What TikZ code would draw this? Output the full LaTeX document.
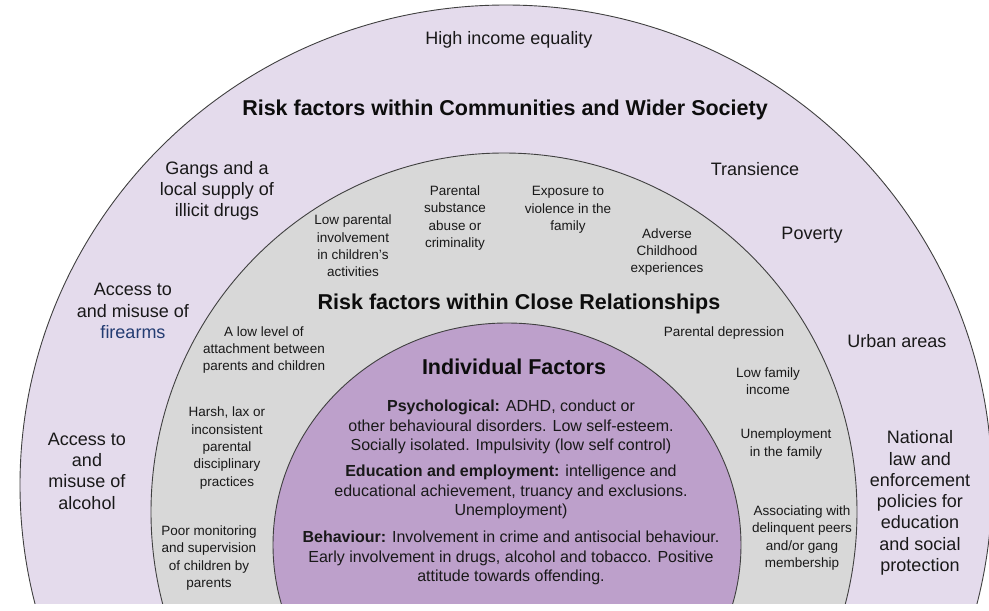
\documentclass[tikz,border=0pt]{standalone}
\usepackage{fontspec}
\setmainfont{Liberation Sans}
\usetikzlibrary{positioning}

\definecolor{societyfill}{HTML}{E4DBEC}
\definecolor{closefill}{HTML}{D8D8D8}
\definecolor{personfill}{HTML}{BDA0CB}
\definecolor{inkblue}{HTML}{233C72}

\begin{document}
\begin{tikzpicture}[x=1pt,y=-1pt,
  ring/.style={draw=black!75,line width=0.9pt},
  outertxt/.style={align=center,text=black!90,inner sep=0pt,font=\fontsize{18}{21.3}\selectfont},
  midtxt/.style={align=center,text=black!90,inner sep=0pt,font=\fontsize{13.5}{17.3}\selectfont},
  indtxt/.style={align=center,text=black!90,inner sep=0pt,font=\fontsize{16}{19.4}\selectfont},
  heading/.style={text=black!95,inner sep=0pt,font=\fontsize{21.5}{24}\selectfont\bfseries}
  ]

  \useasboundingbox (0,0) rectangle (989,611);

  \begin{scope}
    \clip (0,0) rectangle (989,603);
    \filldraw[ring,fill=societyfill] (506,485) ellipse [x radius=486pt,y radius=480pt];
    \filldraw[ring,fill=closefill] (504,512) ellipse [x radius=353pt,y radius=359pt];
    \filldraw[ring,fill=personfill] (507,545) ellipse [x radius=234pt,y radius=222pt];
  \end{scope}

  \node[outertxt] (equality) at (509,40) {High income equality};
  \node[heading] (society) at (505,110) {Risk factors within Communities and Wider Society};
  \node[outertxt] (gangs) at (217,191) {Gangs and a\\local supply of\\illicit drugs};
  \node[outertxt] (transience) at (755,169) {Transience};
  \node[outertxt] (poverty) at (812,235) {Poverty};
  \node[outertxt] (urban) at (897,341) {Urban areas};
  \node[outertxt] (firearms) at (133,311) {Access to\\and misuse of\\\textcolor{inkblue}{firearms}};
  \node[outertxt] (alcohol) at (87,471) {Access to\\and\\misuse of\\alcohol};
  \node[outertxt] (policies) at (920,503) {National\\law and\\enforcement\\policies for\\education\\and social\\protection};

  \node[midtxt] (involve) at (353,246) {Low parental\\involvement\\in children's\\activities};
  \node[midtxt] (substance) at (455,218) {Parental\\substance\\abuse or\\criminality};
  \node[midtxt] (violence) at (568,210) {Exposure to\\violence in the\\family};
  \node[midtxt] (adverse) at (667,252) {Adverse\\Childhood\\experiences};
  \node[heading] (close) at (519,304) {Risk factors within Close Relationships};
  \node[midtxt] (attach) at (264,350) {A low level of\\attachment between\\parents and children};
  \node[midtxt] (depression) at (724,333) {Parental depression};
  \node[midtxt] (income) at (768,381) {Low family\\income};
  \node[midtxt] (harsh) at (227,448) {Harsh, lax or\\inconsistent\\parental\\disciplinary\\practices};
  \node[midtxt] (unemploy) at (786,444) {Unemployment\\in the family};
  \node[midtxt] (monitor) at (209,558) {Poor monitoring\\and supervision\\of children by\\parents};
  \node[midtxt] (peers) at (802,538) {Associating with\\delinquent peers\\and/or gang\\membership};

  \node[heading] (individual) at (514,367) {Individual Factors};
  \node[indtxt] (psych) at (511,427) {\textbf{Psychological:} ADHD, conduct or\\other behavioural disorders. Low self-esteem.\\Socially isolated. Impulsivity (low self control)};
  \node[indtxt] (edu) at (511,492) {\textbf{Education and employment:} intelligence and\\educational achievement, truancy and exclusions.\\Unemployment)};
  \node[indtxt] (behav) at (511,558) {\textbf{Behaviour:} Involvement in crime and antisocial behaviour.\\Early involvement in drugs, alcohol and tobacco. Positive\\attitude towards offending.};

\end{tikzpicture}
\end{document}
